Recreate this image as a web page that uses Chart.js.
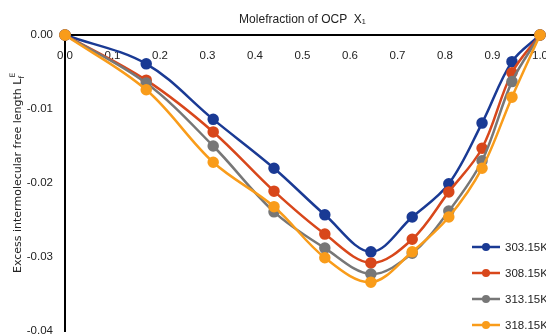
<!DOCTYPE html>
<html>
<head>
<meta charset="utf-8">
<script src="https://cdn.jsdelivr.net/npm/chart.js@4"></script>
<style>
  html, body { margin: 0; padding: 0; background: #fff; }
  #wrap { position: relative; width: 546px; height: 335px; }
</style>
</head>
<body>
<div id="wrap"><canvas id="lfChart"></canvas></div>
<script>
// mole fraction of OCP (x1)
const molFraction = [0, 0.171, 0.312, 0.44, 0.547, 0.644, 0.731, 0.808, 0.878, 0.941, 1.0];

// excess intermolecular free length at each temperature
const lf303 = [0, -0.0039, -0.0114, -0.0180, -0.0243, -0.0293, -0.0246, -0.0201, -0.0119, -0.0036, 0];
const lf308 = [0, -0.0061, -0.0131, -0.0211, -0.0269, -0.0308, -0.0276, -0.0212, -0.0153, -0.0051, 0];
const lf313 = [0, -0.0065, -0.0150, -0.0239, -0.0288, -0.0323, -0.0295, -0.0238, -0.0170, -0.0063, 0];
const lf318 = [0, -0.0074, -0.0172, -0.0232, -0.0301, -0.0334, -0.0293, -0.0246, -0.0180, -0.0084, 0];

const seriesLabels = ['303.15K', '308.15K', '313.15K', '318.15K'];
const seriesColors = ['#1a3a94', '#d8471b', '#777777', '#f99c1a'];
const yTicks = [0, -0.01, -0.02, -0.03, -0.04];

const sans = "'Liberation Sans', Arial, sans-serif";

function makeSet(i, values) {
  return {
    label: seriesLabels[i],
    data: molFraction.map((x, k) => ({ x: x, y: values[k] })),
    borderColor: seriesColors[i],
    backgroundColor: seriesColors[i],
    borderWidth: 2.5,
    pointRadius: 4.5,
    pointHoverRadius: 4.5,
    tension: 0.35,
    clip: 8,
    order: 3 - i
  };
}

// no side padding for overhanging tick labels
function noPad(scale) {
  scale.paddingLeft = 0;
  scale.paddingRight = 0;
  scale.paddingTop = 0;
  scale.paddingBottom = 0;
}

// y axis title with subscript / superscript
const yTitle = {
  id: 'yTitle',
  afterDraw(chart) {
    const ctx = chart.ctx;
    const main = 'Excess intermolecular free length L';
    ctx.save();
    ctx.translate(18, 174);
    ctx.rotate(-Math.PI / 2);
    ctx.fillStyle = '#222';
    ctx.textBaseline = 'middle';
    ctx.font = "11px 'DejaVu Sans', sans-serif";
    const w1 = ctx.measureText(main).width;
    ctx.font = "7.5px 'DejaVu Sans', sans-serif";
    const w2 = ctx.measureText('f').width;
    const total = w1 + w2 + 1;
    let x = -total / 2;
    ctx.font = "11px 'DejaVu Sans', sans-serif";
    ctx.fillText(main, x, 0);
    x += w1;
    ctx.font = "7.5px 'DejaVu Sans', sans-serif";
    ctx.fillText('f', x, 4);
    ctx.fillText('E', x + 1, -5);
    ctx.restore();
  }
};

// legend in the lower right corner
const cornerLegend = {
  id: 'cornerLegend',
  afterDraw(chart) {
    const ctx = chart.ctx;
    const a = chart.chartArea;
    const x0 = a.right - 68;
    ctx.save();
    chart.data.datasets.forEach((ds, i) => {
      const y = a.bottom - 84 + i * 26;
      ctx.strokeStyle = ds.borderColor;
      ctx.lineWidth = 2.5;
      ctx.beginPath();
      ctx.moveTo(x0, y);
      ctx.lineTo(x0 + 28, y);
      ctx.stroke();
      ctx.fillStyle = ds.borderColor;
      ctx.beginPath();
      ctx.arc(x0 + 14, y, 4, 0, Math.PI * 2);
      ctx.fill();
      ctx.fillStyle = '#222';
      ctx.font = '11.5px ' + sans;
      ctx.textBaseline = 'middle';
      ctx.fillText(ds.label, x0 + 33, y + 1);
    });
    ctx.restore();
  }
};

const cfg = {
  type: 'line',
  data: {
    datasets: [
      makeSet(0, lf303),
      makeSet(1, lf308),
      makeSet(2, lf313),
      makeSet(3, lf318)
    ]
  },
  options: {
    responsive: true,
    maintainAspectRatio: false,
    animation: false,
    layout: { autoPadding: false, padding: { left: 0, right: 6, top: 0, bottom: 4 } },
    plugins: {
      legend: { display: false },
      tooltip: { enabled: false }
    },
    scales: {
      x: {
        type: 'linear',
        position: { y: 0 },
        min: 0,
        max: 1,
        grid: { display: false, drawTicks: false },
        border: { display: true, color: '#000', width: 2 },
        ticks: {
          stepSize: 0.1,
          padding: 14,
          color: '#222',
          font: { family: sans, size: 11.5 },
          maxRotation: 0,
          callback: v => v.toFixed(1)
        },
        afterFit(scale) { noPad(scale); scale.height = 0; }
      },
      x2: {
        type: 'linear',
        position: 'top',
        min: 0,
        max: 1,
        grid: { display: false, drawTicks: false },
        border: { display: false },
        ticks: { display: false },
        title: {
          display: true,
          text: 'Molefraction of OCP  X\u2081',
          color: '#222',
          font: { family: sans, size: 12 },
          padding: { top: 12, bottom: 0 }
        },
        afterFit(scale) { noPad(scale); scale.height = 35; }
      },
      y: {
        min: -0.04,
        max: 0,
        grid: { display: false, drawTicks: false },
        border: { display: true, color: '#000', width: 2 },
        afterBuildTicks(scale) { scale.ticks = yTicks.map(v => ({ value: v })); },
        ticks: {
          padding: 12,
          color: '#222',
          font: { family: sans, size: 11.5 },
          callback: v => v.toFixed(2)
        },
        afterFit(scale) { noPad(scale); scale.width = 65; }
      }
    }
  },
  plugins: [yTitle, cornerLegend]
};

new Chart(document.getElementById('lfChart'), cfg);
</script>
</body>
</html>
